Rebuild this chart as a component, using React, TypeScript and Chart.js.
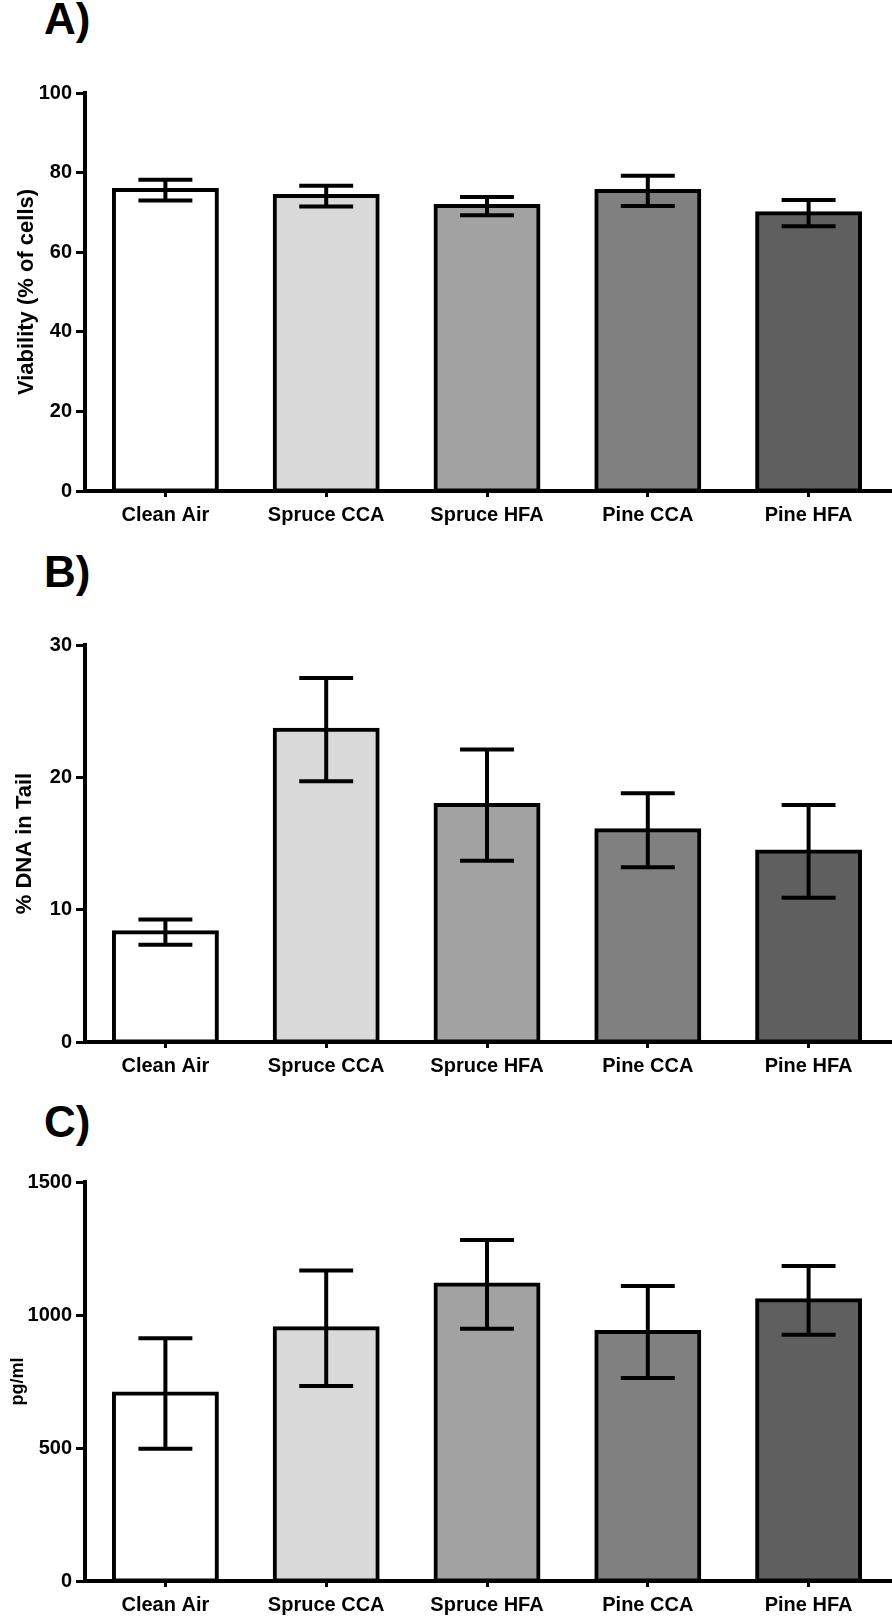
import React, { useEffect, useRef } from "react";
import { Chart, registerables } from "chart.js";

Chart.register(...registerables);

const categories = ["Clean Air", "Spruce CCA", "Spruce HFA", "Pine CCA", "Pine HFA"];
const barColors = ["#ffffff", "#d9d9d9", "#a2a2a2", "#808080", "#5f5f5f"];

const viabilityMean = [75.6, 74.1, 71.6, 75.4, 69.8];
const viabilityErr = [2.6, 2.6, 2.3, 3.8, 3.3];

const dnaTailMean = [8.3, 23.6, 17.9, 16.0, 14.4];
const dnaTailErr = [0.95, 3.9, 4.2, 2.8, 3.5];

const pgMlMean = [705, 950, 1115, 936, 1055];
const pgMlErr = [208, 217, 167, 173, 129];

const TICK_FONT = { family: "'Liberation Sans', Arial, sans-serif", size: 20, weight: "bold" as const };

type PanelProps = {
  top: number;
  height: number;
  xHeight: number;
  mean: number[];
  err: number[];
  max: number;
  step: number;
  yTitle: string;
  titleSize: number;
  titlePad: number;
};

function BarPanel(p: PanelProps) {
  const ref = useRef<HTMLCanvasElement>(null);
  useEffect(() => {
    if (!ref.current) return;
    const errPlugin = {
      id: "errbars",
      afterDatasetsDraw(chart: any) {
        const ctx = chart.ctx;
        const y = chart.scales.y;
        const meta = chart.getDatasetMeta(0);
        ctx.save();
        ctx.strokeStyle = "#000";
        ctx.lineWidth = 4;
        ctx.lineCap = "butt";
        meta.data.forEach((bar: any, i: number) => {
          const x = bar.x;
          const hi = y.getPixelForValue(p.mean[i] + p.err[i]);
          const lo = y.getPixelForValue(p.mean[i] - p.err[i]);
          const half = bar.width * 0.262;
          ctx.beginPath();
          ctx.moveTo(x, hi);
          ctx.lineTo(x, lo);
          ctx.moveTo(x - half, hi);
          ctx.lineTo(x + half, hi);
          ctx.moveTo(x - half, lo);
          ctx.lineTo(x + half, lo);
          ctx.stroke();
        });
        ctx.restore();
      },
      afterDraw(chart: any) {
        // extend the x-axis baseline to the right edge of the figure
        const ctx = chart.ctx;
        const a = chart.chartArea;
        const y0 = chart.scales.y.getPixelForValue(0);
        ctx.save();
        ctx.strokeStyle = "#000";
        ctx.lineWidth = 4;
        ctx.beginPath();
        ctx.moveTo(a.right - 2, y0);
        ctx.lineTo(chart.width, y0);
        ctx.stroke();
        ctx.restore();
      },
    };
    const chart = new Chart(ref.current, {
      type: "bar",
      data: {
        labels: categories,
        datasets: [
          {
            data: p.mean,
            backgroundColor: barColors,
            borderColor: "#000",
            borderWidth: 4,
            borderSkipped: false,
            inflateAmount: 2,
            barPercentage: 0.64,
            categoryPercentage: 1,
            clip: false as any,
          } as any,
        ],
      },
      options: {
        responsive: false,
        animation: false,
        devicePixelRatio: 1,
        layout: { padding: { top: 12, right: 3, left: 0, bottom: 0 } },
        plugins: {
          legend: { display: false },
          tooltip: { enabled: false },
          title: { display: false },
        },
        scales: {
          x: {
            offset: true,
            grid: {
              display: true,
              drawOnChartArea: false,
              drawTicks: true,
              tickLength: 6,
              tickWidth: 3,
              tickColor: "#000",
              offset: false,
            },
            border: { display: true, color: "#000", width: 4 },
            ticks: { color: "#000", font: TICK_FONT, padding: 6, maxRotation: 0, autoSkip: false },
            afterFit: (s: any) => {
              s.height = p.xHeight;
            },
          },
          y: {
            min: 0,
            max: p.max,
            grid: {
              display: true,
              drawOnChartArea: false,
              drawTicks: true,
              tickLength: 9,
              tickWidth: 3,
              tickColor: "#000",
            },
            border: { display: true, color: "#000", width: 4 },
            ticks: {
              stepSize: p.step,
              color: "#000",
              font: TICK_FONT,
              padding: 4,
              callback: (v: any) => String(v),
            },
            title: {
              display: true,
              text: p.yTitle,
              color: "#000",
              font: { family: "'Liberation Sans', Arial, sans-serif", size: p.titleSize, weight: "bold" },
              padding: { top: p.titlePad, bottom: 0 },
            },
            afterFit: (s: any) => {
              s.width = 85;
            },
          },
        },
      },
      plugins: [errPlugin],
    } as any);
    return () => chart.destroy();
  }, []);
  return (
    <canvas
      ref={ref}
      width={892}
      height={p.height}
      style={{ position: "absolute", left: 0, top: p.top, width: 892, height: p.height }}
    />
  );
}

const labelStyle = (top: number): React.CSSProperties => ({
  position: "absolute",
  left: 44,
  top,
  fontFamily: "'Liberation Sans', Arial, sans-serif",
  fontWeight: "bold",
  fontSize: 44,
  lineHeight: "44px",
  color: "#000",
});

export default function App() {
  return (
    <div
      style={{
        position: "absolute",
        left: 0,
        top: 0,
        width: 892,
        height: 1616,
        overflow: "hidden",
        background: "#fff",
      }}
    >
      <div style={labelStyle(-3)}>A)</div>
      <div style={labelStyle(550)}>B)</div>
      <div style={labelStyle(1100)}>C)</div>
      <BarPanel
        top={77}
        height={450}
        xHeight={36}
        mean={viabilityMean}
        err={viabilityErr}
        max={100}
        step={20}
        yTitle="Viability (% of cells)"
        titleSize={22}
        titlePad={14}
      />
      <BarPanel
        top={629}
        height={449}
        xHeight={36}
        mean={dnaTailMean}
        err={dnaTailErr}
        max={30}
        step={10}
        yTitle="% DNA in Tail"
        titleSize={22}
        titlePad={12}
      />
      <BarPanel
        top={1166}
        height={450}
        xHeight={35}
        mean={pgMlMean}
        err={pgMlErr}
        max={1500}
        step={500}
        yTitle="pg/ml"
        titleSize={18}
        titlePad={7}
      />
    </div>
  );
}
